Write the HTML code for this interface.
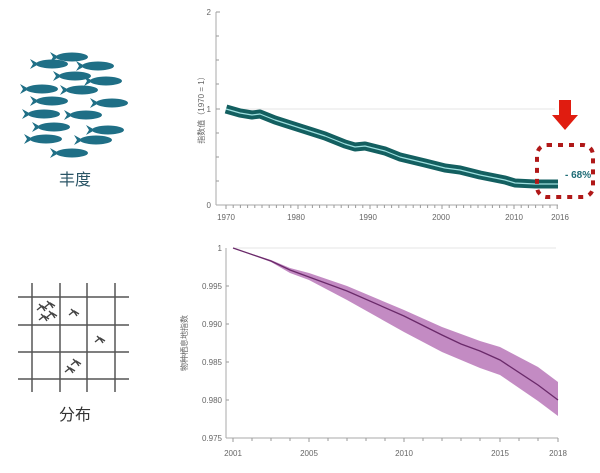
<!DOCTYPE html>
<html><head><meta charset="utf-8"><style>
body{margin:0;background:#fff;width:600px;height:468px;overflow:hidden;font-family:"Liberation Sans","Noto Sans CJK SC",sans-serif}
</style></head><body>
<svg width="600" height="468" viewBox="0 0 600 468" xmlns="http://www.w3.org/2000/svg" font-family="Liberation Sans, Noto Sans CJK SC, sans-serif">
<defs>
<g id="f"><ellipse cx="0" cy="0" rx="16" ry="4.5"/><path d="M-13 0 L-22 -5 L-19 0 L-22 5 Z"/></g>
<path id="b" d="M-5 3 L0 -1 L5 2 M-3 -3 L1 1 L3 4" stroke="#444" stroke-width="1.4" fill="none"/>
</defs>
<g fill="#1f6f86">
<use href="#f" x="72" y="57"/><use href="#f" x="98" y="66"/><use href="#f" x="52" y="64"/>
<use href="#f" x="75" y="76"/><use href="#f" x="106" y="81"/><use href="#f" x="42" y="89"/>
<use href="#f" x="82" y="90"/><use href="#f" x="52" y="101"/><use href="#f" x="112" y="103"/>
<use href="#f" x="44" y="114"/><use href="#f" x="86" y="115"/><use href="#f" x="54" y="127"/>
<use href="#f" x="108" y="130"/><use href="#f" x="46" y="139"/><use href="#f" x="96" y="140"/>
<use href="#f" x="72" y="153"/>
</g>
<text x="75" y="185" font-size="16" fill="#2a5566" text-anchor="middle">丰度</text>
<g stroke="#555" stroke-width="1.5">
<line x1="18" y1="297" x2="129" y2="297"/><line x1="18" y1="325" x2="129" y2="325"/><line x1="18" y1="352" x2="129" y2="352"/><line x1="18" y1="379" x2="129" y2="379"/>
<line x1="32" y1="283" x2="32" y2="392"/><line x1="60" y1="283" x2="60" y2="392"/><line x1="87" y1="283" x2="87" y2="392"/><line x1="115" y1="283" x2="115" y2="392"/>
</g>
<use href="#b" x="42" y="307"/><use href="#b" x="50" y="304"/><use href="#b" x="44" y="317"/><use href="#b" x="52" y="314"/><use href="#b" x="74" y="312"/><use href="#b" x="100" y="339"/><use href="#b" x="76" y="362"/><use href="#b" x="70" y="369"/>
<text x="75" y="420" font-size="16" fill="#333" text-anchor="middle">分布</text>

<g font-size="8" fill="#666">
<line x1="216" y1="12" x2="216" y2="205" stroke="#aaa"/>
<line x1="216" y1="205" x2="558" y2="205" stroke="#aaa"/>
<path d="M216 12h4M216 36h3M216 60h3M216 84h3M216 109h4M216 133h3M216 157h3M216 181h3" stroke="#999"/>
<path d="M226 205v4M233.2 205v3M240.4 205v3M247.6 205v3M254.8 205v3M262 205v3M269.2 205v3M276.4 205v3M283.6 205v3M290.8 205v3M298 205v4M305.2 205v3M312.4 205v3M319.6 205v3M326.8 205v3M334 205v3M341.2 205v3M348.4 205v3M355.6 205v3M362.8 205v3M370 205v4M377.2 205v3M384.4 205v3M391.6 205v3M398.8 205v3M406 205v3M413.2 205v3M420.4 205v3M427.6 205v3M434.8 205v3M442 205v4M449.2 205v3M456.4 205v3M463.6 205v3M470.8 205v3M478 205v3M485.2 205v3M492.4 205v3M499.6 205v3M506.8 205v3M514 205v4M521.2 205v3M528.4 205v3M535.6 205v3M542.8 205v3M550 205v3M557.2 205v4" stroke="#999"/>
<line x1="226" y1="109" x2="555" y2="109" stroke="#ccc" stroke-width="0.6"/>
<text x="211" y="15" text-anchor="end">2</text><text x="211" y="112" text-anchor="end">1</text><text x="211" y="208" text-anchor="end">0</text>
<text x="226" y="220" text-anchor="middle">1970</text><text x="296" y="220" text-anchor="middle">1980</text><text x="368" y="220" text-anchor="middle">1990</text><text x="441" y="220" text-anchor="middle">2000</text><text x="514" y="220" text-anchor="middle">2010</text><text x="560" y="220" text-anchor="middle">2016</text>
<text transform="translate(204,108) rotate(-90)" text-anchor="middle" font-size="8">指数值（1970 = 1）</text>
</g>
<path d="M226 109 L240 113 L252 115 L260 114 L275 120 L300 128 L325 136 L345 144 L355 147 L365 146 L385 151 L400 157 L425 163 L445 168 L460 170 L480 175 L505 180 L515 183 L535 184 L558 184" fill="none" stroke="#135f60" stroke-width="9" stroke-linejoin="round"/>
<path d="M226 109 L240 113 L252 115 L260 114 L275 120 L300 128 L325 136 L345 144 L355 147 L365 146 L385 151 L400 157 L425 163 L445 168 L460 170 L480 175 L505 180 L515 183 L535 184 L558 184" fill="none" stroke="#9ee0e0" stroke-width="1.2" stroke-linejoin="round"/>
<polygon points="559,100 571,100 571,115 578,115 565,130 552,115 559,115" fill="#e01c10"/>
<rect x="537" y="145" width="56" height="52" rx="10" fill="none" stroke="#b01818" stroke-width="4" stroke-dasharray="5,6"/>
<text x="565" y="178" font-size="10" font-weight="bold" fill="#1d6b75">- 68%</text>

<g font-size="8" fill="#666">
<line x1="226" y1="248" x2="226" y2="438" stroke="#aaa"/>
<line x1="226" y1="438" x2="558" y2="438" stroke="#aaa"/>
<path d="M226 286h3M226 324h3M226 362h3M226 400h3" stroke="#999"/>
<path d="M233 438v4M252 438v3M271 438v3M290 438v3M309 438v4M328 438v3M347 438v3M366 438v3M385 438v3M404 438v4M423 438v3M442 438v3M461 438v3M480 438v3M500 438v4M519 438v3M538 438v3M558 438v4" stroke="#999"/>
<line x1="233" y1="248" x2="556" y2="248" stroke="#ccc" stroke-width="0.6"/>
<text x="222" y="251" text-anchor="end">1</text><text x="222" y="289" text-anchor="end">0.995</text><text x="222" y="327" text-anchor="end">0.990</text><text x="222" y="365" text-anchor="end">0.985</text><text x="222" y="403" text-anchor="end">0.980</text><text x="222" y="441" text-anchor="end">0.975</text>
<text x="233" y="456" text-anchor="middle">2001</text><text x="309" y="456" text-anchor="middle">2005</text><text x="404" y="456" text-anchor="middle">2010</text><text x="500" y="456" text-anchor="middle">2015</text><text x="558" y="456" text-anchor="middle">2018</text>
<text transform="translate(187,343) rotate(-90)" text-anchor="middle" font-size="8">物种栖息地指数</text>
</g>
<polygon points="233,248 271,260 290,268 309,273 347,286 404,310 442,327 461,334 480,341 500,347 538,367 558,382 558,416 538,401 500,375 480,368 461,360 442,352 404,332 347,300 309,280 290,273 271,262 233,248" fill="#b877b8" opacity="0.85"/>
<polyline points="233,248 271,261 290,270 309,277 347,291 404,316 442,335 461,344 480,351 500,360 538,385 558,400" fill="none" stroke="#6a2a6a" stroke-width="1.3"/>
</svg>
</body></html>
